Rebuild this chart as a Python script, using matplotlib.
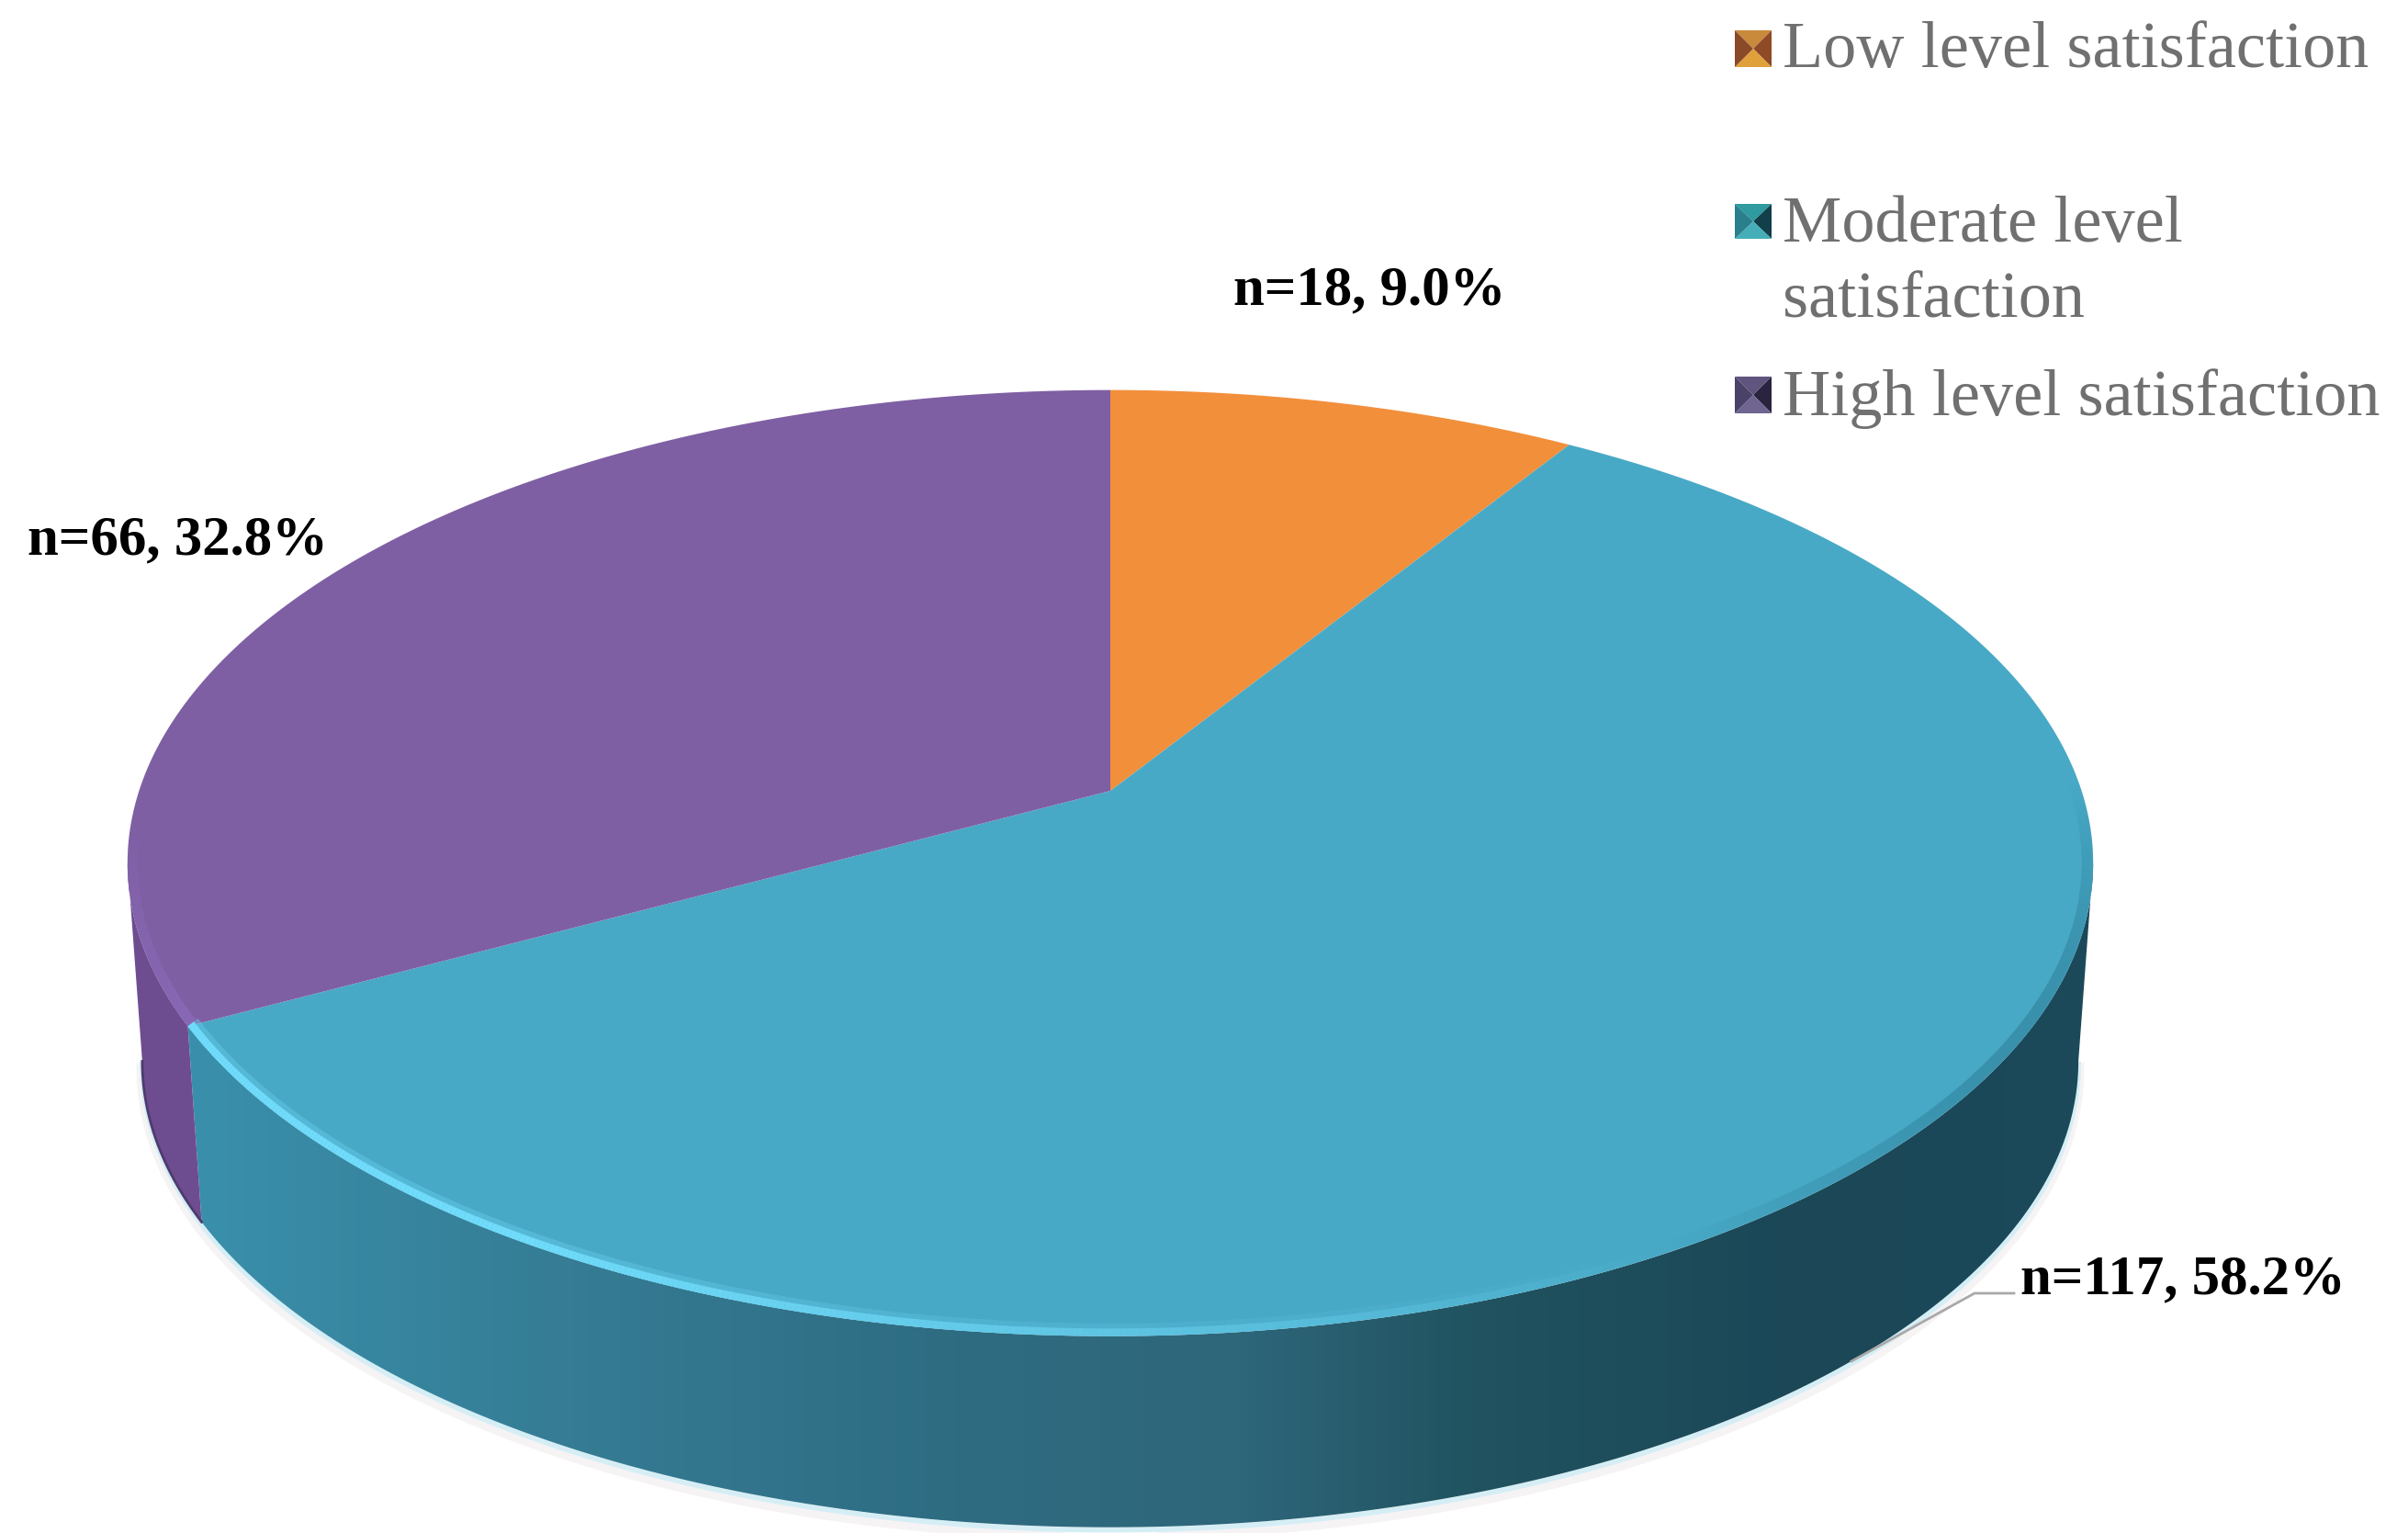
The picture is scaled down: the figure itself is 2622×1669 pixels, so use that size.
import numpy as np
import matplotlib
matplotlib.use("Agg")
import matplotlib.pyplot as plt
from matplotlib.collections import LineCollection
from matplotlib.colors import LinearSegmentedColormap
from matplotlib.patches import Polygon
from matplotlib.path import Path
from matplotlib.transforms import Transform

# data
categories = ["Low level satisfaction", "Moderate level\nsatisfaction", "High level satisfaction"]
counts = [18, 117, 66]
percents = [9.0, 58.2, 32.8]

face_colors = ["#f28f3b", "#48a9c6", "#7f5fa3"]
WALL_PURPLE = "#6d4d8f"

plt.rcParams["font.family"] = ["Liberation Serif", "DejaVu Serif"]

# pixel coordinates of the reference, y going down
fig = plt.figure(figsize=(26.22, 16.69), dpi=100)
ax = fig.add_axes([0, 0, 1, 1])

APEX_X, APEX_Y = 1209, 861
A, B, K = 1057.6, 503.0, 0.1527


class Tilt(Transform):
    # perspective of the flat pie lying on its back
    input_dims = 2
    output_dims = 2

    def __init__(self, scale=1.0, shift=0.0):
        super().__init__()
        self.scale = scale
        self.shift = shift

    def transform_non_affine(self, values):
        u, v = values[:, 0], values[:, 1]
        d = 1 + K * v
        x = APEX_X + self.scale * A * u / d
        y = APEX_Y + self.shift - self.scale * B * v / d
        return np.column_stack([x, y])

    def transform_path_non_affine(self, path):
        # flatten the arcs first, control points must not go through the tilt
        pts = []
        for curve, code in path.iter_bezier():
            if code == Path.MOVETO or code == Path.CLOSEPOLY:
                continue
            pts.append(curve(np.linspace(0, 1, 40)))
        return Path(self.transform_non_affine(np.vstack(pts)))


top = Tilt()
bottom = Tilt(scale=0.985, shift=217)


def arc(t, deg0, deg1, n=300):
    a = np.radians(np.linspace(deg0, deg1, n))
    return t.transform_non_affine(np.column_stack([np.sin(a), np.cos(a)]))


# slice limits, clockwise from 12 o'clock
limits = np.cumsum([0] + counts) / sum(counts) * 360
front0 = np.degrees(np.arccos(-K))
front1 = 360 - front0

# soft pale edge outside the base
edge = arc(bottom, front0, front1)
ax.plot(edge[:, 0], edge[:, 1] + 8, color="#f6f3f5", lw=9, zorder=0.5)
ax.plot(edge[:, 0], edge[:, 1] + 3, color="#d5eef5", lw=4, zorder=1)

# side wall of the moderate slice, gradient left to right
wall_cmap = LinearSegmentedColormap.from_list("wall", [
    (0.00, "#3a90ac"), (0.20, "#357c94"), (0.40, "#2e6c82"), (0.55, "#2e667a"),
    (0.68, "#20525f"), (0.85, "#1b4757"), (1.00, "#1b4a5a")])
w0 = np.vstack([arc(top, front0, limits[2]), arc(bottom, limits[2], front0)])
grad = np.linspace(0, 1, 512).reshape(1, -1)
img = ax.imshow(grad, cmap=wall_cmap, extent=[200, 2290, 1669, 400], aspect="auto", zorder=2)
wall_teal = Polygon(w0, closed=True, transform=ax.transData, facecolor="none", edgecolor="none")
ax.add_patch(wall_teal)
img.set_clip_path(wall_teal)

# side wall of the high slice
w1 = np.vstack([arc(top, limits[2], front1), arc(bottom, front1, limits[2])])
ax.fill(w1[:, 0], w1[:, 1], color=WALL_PURPLE, lw=0, zorder=2)
ax.plot(*arc(bottom, limits[2], front1).T, color="#4f3a6e", lw=2, zorder=2.1)

# top of the pie
wedges, _ = ax.pie(counts, colors=face_colors, startangle=90, counterclock=False,
                   radius=1, wedgeprops={"linewidth": 0})
for w in wedges:
    w.set_transform(top + ax.transData)
    w.set_zorder(3)

# rims stay inside the top ellipse
top_outline = Polygon(arc(top, 0, 360, 720), closed=True, transform=ax.transData,
                      facecolor="none", edgecolor="none")
ax.add_patch(top_outline)


def rim_line(deg0, deg1, rgb, alphas, width, z):
    pts = arc(top, deg0, deg1)
    segs = np.stack([pts[:-1], pts[1:]], axis=1)
    lc = LineCollection(segs, colors=[(*rgb, a) for a in alphas(len(segs))], linewidths=width, zorder=z)
    ax.add_collection(lc)
    lc.set_clip_path(top_outline)


# bright rim along the front edge, fading to the right, a wide faint pass for the blur
ramp = lambda n: np.clip(np.linspace(0, 1.5, n), 0, 1)
rim_line(150, limits[2], (0.40, 0.80, 0.92), lambda n: 0.45 * ramp(n), 20, 4)
rim_line(150, limits[2], (0.44, 0.86, 0.98), ramp, 12, 4.1)

# face goes darker towards the right edge, no hard start at either end
bump = lambda n: 0.6 * np.sin(np.linspace(0, np.pi, n))
rim_line(front0 - 10, 150, (0.18, 0.50, 0.60), bump, 18, 4)

# lighter rim on the high slice
rim_line(limits[2], front1 + 6, (0.54, 0.41, 0.72), lambda n: np.linspace(1, 0, n), 16, 4)

# labels
ax.text(1343, 331, f"n={counts[0]}, {percents[0]:.1f}%", fontsize=43.8, fontweight="bold", color="black", zorder=6)
ax.text(30, 603, f"n={counts[2]}, {percents[2]:.1f}%", fontsize=43.8, fontweight="bold", color="black", zorder=6)
ax.text(2200, 1408, f"n={counts[1]}, {percents[1]:.1f}%", fontsize=43.8, fontweight="bold", color="black", zorder=6)

# leader line of the moderate label
ax.plot([2016, 2150, 2193], [1482, 1408, 1408], color="#a9a9a9", lw=2, zorder=5)

# legend, swatches have a small bevel
swatch_bevels = [
    ["#c98a3c", "#8f4a26", "#e0a03a", "#8a4a28"],
    ["#2f9aa0", "#123f4a", "#45aeb8", "#2a7f8c"],
    ["#5f557f", "#2a2440", "#6f6590", "#4a4268"],
]
swatch_y = [(33, 73), (222, 260), (410, 450)]
text_y = [73, 263, 452]
for name, bev, (y0, y1), ty in zip(categories, swatch_bevels, swatch_y, text_y):
    x0, x1 = 1889, 1929
    xc, yc = (x0 + x1) / 2, (y0 + y1) / 2
    ax.fill([x0, x1, xc], [y0, y0, yc], color=bev[0], lw=0, zorder=5)
    ax.fill([x1, x1, xc], [y0, y1, yc], color=bev[1], lw=0, zorder=5)
    ax.fill([x0, x1, xc], [y1, y1, yc], color=bev[2], lw=0, zorder=5)
    ax.fill([x0, x0, xc], [y0, y1, yc], color=bev[3], lw=0, zorder=5)
    lines = name.split("\n")
    ax.text(1941, ty, lines[0], fontsize=52, color="#707070", zorder=6)
    if len(lines) > 1:
        ax.text(1941, ty + 82, lines[1], fontsize=52, color="#707070", zorder=6)

ax.set_aspect("auto")
ax.set_xlim(0, 2622)
ax.set_ylim(1669, 0)
ax.axis("off")

fig.savefig("out.png", dpi=100)
